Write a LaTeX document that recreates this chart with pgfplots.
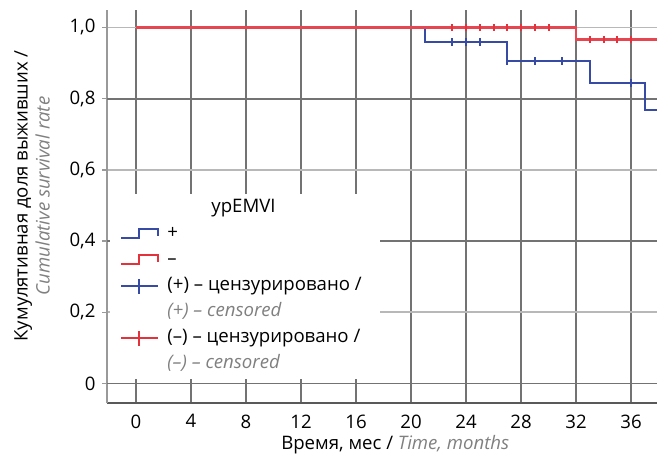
\documentclass[border=0pt]{standalone}
\usepackage{fontspec}
\setmainfont{Open Sans}
\usepackage{pgfplots}
\pgfplotsset{compat=1.18}
\definecolor{kmblue}{RGB}{55,75,165}
\definecolor{kmred}{RGB}{228,50,60}
\definecolor{lblgray}{RGB}{128,128,128}
\begin{document}
\fontsize{9.3}{11}\selectfont
\begin{tikzpicture}
\begin{axis}[
 scale only axis, width=275pt, height=196.5pt,
 xmin=-2.11, xmax=37.89, ymin=-0.055, ymax=1.049,
 axis x line=bottom, axis y line=left, axis line style={-},
 x axis line style={black!65, line width=1.1pt},
 y axis line style={black!40, line width=0.9pt},
 /pgf/number format/assume math mode=true,
 xtick={0,4,...,36},
 xtick style={draw=none},
 ytick={0,0.2,0.4,0.6,0.8,1.0}, yticklabels={0,{0,2},{0,4},{0,6},{0,8},{1,0}},
 ytick style={black!40, line width=0.7pt},
 tick align=outside, major tick length=2.5pt,
 xmajorgrids, ymajorgrids,
 x grid style={black!55, line width=0.9pt},
 y grid style={black!28, line width=0.9pt},
 every axis y label/.style={at={(rel axis cs:-0.136,0.527)}, rotate=90, anchor=center, align=center},
 every axis x label/.style={at={(rel axis cs:0.524,-0.106)}, anchor=center},
 xlabel={Время, мес / \textcolor{lblgray}{\textit{Time, months}}},
 ylabel={Кумулятивная доля выживших /\\\textcolor{lblgray}{\textit{Cumulative survival rate}}},
 legend cell align=left,
 legend style={at={(rel axis cs:0.0055,0.534)}, anchor=north west, fill=white, draw=none,
   inner xsep=5pt, inner ysep=3pt, row sep=4.5pt,
   nodes={inner xsep=4pt, inner ysep=0pt, text height=6.5pt, text depth=2pt}},
]
% darker horizontal grid lines
\draw[black!55, line width=0.9pt] (axis cs:-2.11,0) -- (axis cs:37.89,0);
\draw[black!55, line width=0.9pt] (axis cs:-2.11,0.4) -- (axis cs:37.89,0.4);
\draw[black!55, line width=0.9pt] (axis cs:-2.11,0.8) -- (axis cs:37.89,0.8);
% curves
\addplot[const plot, kmblue, line width=1.1pt, forget plot] coordinates {(0,1) (21,0.959) (27,0.906) (33,0.844) (37,0.769) (37.89,0.769)};
\addplot[const plot, kmred!90!white, line width=1.1pt, forget plot] coordinates {(0,1) (32,0.966) (37.89,0.966)};
\addplot[only marks, mark=|, mark size=1.8pt, kmblue, line width=1pt, forget plot] coordinates {(23,0.959) (24,0.959) (25,0.959) (27,0.906) (29,0.906) (31,0.906) (36,0.844)};
\addplot[only marks, mark=|, mark size=1.8pt, kmred, line width=1pt, forget plot] coordinates {(23,1) (24,1) (25,1) (26,1) (27,1) (28,1) (29,1) (30,1) (33,0.966) (34,0.966) (35,0.966) (36,0.966)};
% legend
\addlegendimage{empty legend}
\addlegendentry{\hspace*{22pt}урEMVI}
\addlegendimage{kmblue, line width=1pt, legend image code/.code={\draw (0pt,-2pt) -- (9pt,-2pt) -- (9pt,2.5pt) -- (18.5pt,2.5pt) -- (18.5pt,-1pt);}}
\addlegendentry{+}
\addlegendimage{kmred, line width=1pt, legend image code/.code={\draw (0pt,-2pt) -- (9pt,-2pt) -- (9pt,2.5pt) -- (18.5pt,2.5pt) -- (18.5pt,-1pt);}}
\addlegendentry{–}
\addlegendimage{kmblue, line width=1pt, legend image code/.code={\draw (0pt,0pt) -- (18.5pt,0pt); \draw (9pt,-3.75pt) -- (9pt,3.75pt);}}
\addlegendentry{(+) – цензурировано /}
\addlegendimage{empty legend}
\addlegendentry{\textcolor{lblgray}{\textit{(+) – censored}}}
\addlegendimage{kmred, line width=1pt, legend image code/.code={\draw (0pt,0pt) -- (18.5pt,0pt); \draw (9pt,-3.75pt) -- (9pt,3.75pt);}}
\addlegendentry{(–) – цензурировано /}
\addlegendimage{empty legend}
\addlegendentry{\textcolor{lblgray}{\textit{(–) – censored}}}
\coordinate (sw) at (rel axis cs:0,0);
\end{axis}
\pgfresetboundingbox
\path (sw) ++(-53.5pt,-26pt) rectangle ++(328.5pt,227.5pt);
\end{tikzpicture}
\end{document}
